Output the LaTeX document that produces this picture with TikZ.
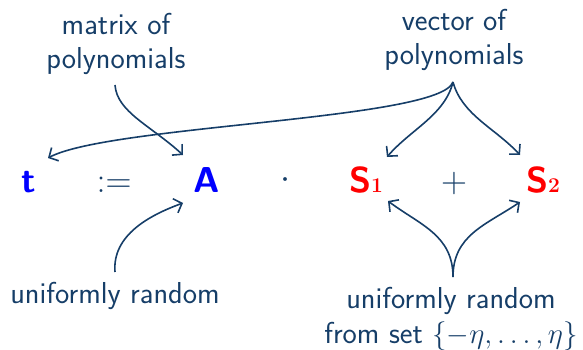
\RequirePackage{fix-cm}
\documentclass[tikz,border=0pt]{standalone}
\usetikzlibrary{arrows.meta}
\definecolor{dkb}{RGB}{22,62,104}
\begin{document}
\begin{tikzpicture}[x=1pt,y=-1pt,
  lbl/.style={text=dkb, font=\fontsize{30.3}{34.5}\selectfont\sffamily, align=center, inner sep=0pt},
  mth/.style={font=\fontsize{36}{40}\selectfont, inner sep=0pt},
  arr/.style={draw=dkb, line width=1.6pt, -{Straight Barb[length=7pt,width=15pt,line width=1.6pt]}}]
\useasboundingbox (0,0) rectangle (583,350);
% labels
\node[lbl, anchor=base] (mp) at (116,69) {matrix of\\polynomials};
\node[lbl, anchor=base] (vp) at (454,65) {vector of\\polynomials};
\node[lbl, anchor=base] (ua) at (115,303) {uniformly random};
\node[lbl, anchor=base] (us) at (451,343) {uniformly random\\from set {\fontsize{29}{34}\selectfont$\{-\eta,\ldots,\eta\}$}};
% formula
\node[mth, anchor=base, text=blue] (t) at (29,192) {\sffamily\bfseries t};
\node[mth, anchor=base, text=dkb] (def) at (114,192) {$:=$};
\node[mth, anchor=base, text=blue] (A) at (207,192) {\sffamily\bfseries A};
\node[mth, anchor=base, text=dkb] (dot) at (285,188) {$\cdot$};
\node[mth, anchor=base west, text=red] (s1) at (349,192) {\sffamily\bfseries S{\rmfamily\fontsize{21}{21}\selectfont 1}};
\node[mth, anchor=base, text=dkb] (plus) at (454,192) {$+$};
\node[mth, anchor=base west, text=red] (s2) at (526,192) {\sffamily\bfseries S{\rmfamily\fontsize{21}{21}\selectfont 2}};
% connector ends
\coordinate (mpo) at (115,85);
\coordinate (vpo) at (453,82);
\coordinate (uao) at (115,272);
\coordinate (uso) at (453,277);
\coordinate (tin) at (48,158);
\coordinate (ain) at (183,155);
\coordinate (aib) at (183,203);
\coordinate (s1t) at (387,157);
\coordinate (s2t) at (520,155);
\coordinate (s1b) at (388,201);
\coordinate (s2b) at (520,202);
% connectors
\draw[arr] (mpo) .. controls (117,112) and (150,125) .. (ain);
\draw[arr] (vpo) .. controls (440,120) and (110,125) .. (tin);
\draw[arr] (vpo) .. controls (445,115) and (410,130) .. (s1t);
\draw[arr] (vpo) .. controls (462,115) and (495,128) .. (s2t);
\draw[arr] (uao) .. controls (112,235) and (150,215) .. (aib);
\draw[arr] (uso) .. controls (453,235) and (420,225) .. (s1b);
\draw[arr] (uso) .. controls (453,235) and (486,225) .. (s2b);
\end{tikzpicture}
\end{document}
